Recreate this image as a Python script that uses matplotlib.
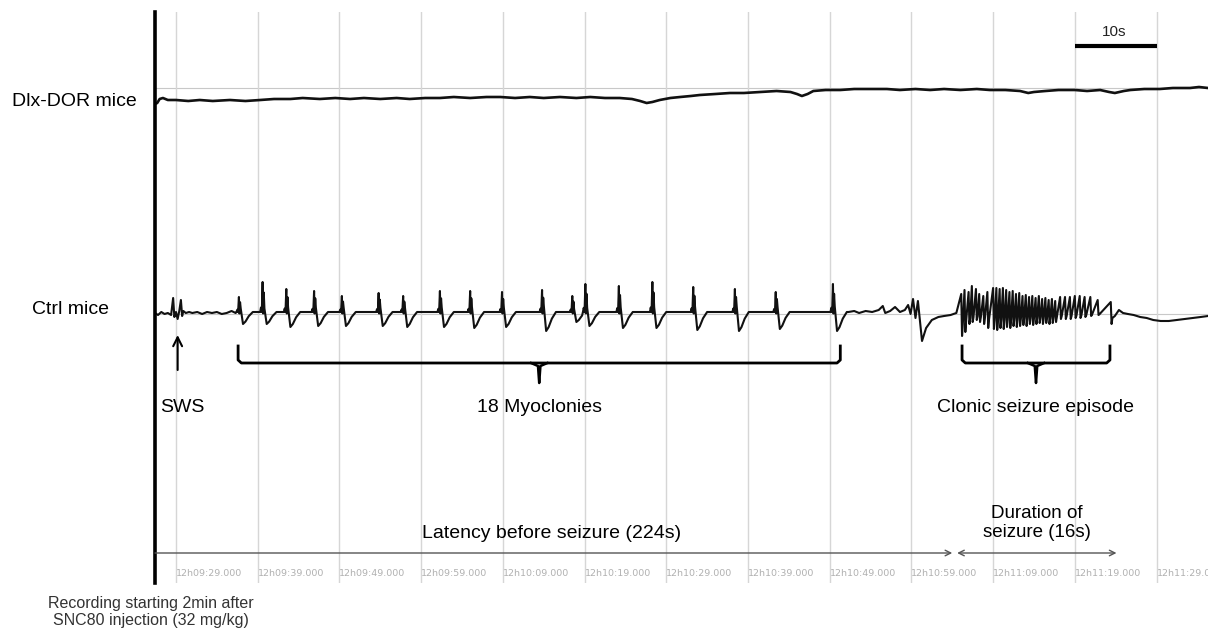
import matplotlib.pyplot as plt

# time in s after 12h09:29.000, amplitude in arbitrary units
grid_t = [0, 10, 20, 30, 40, 50, 60, 70, 80, 90, 100, 110, 120]
tick_labels = ['12h09:29.000', '12h09:39.000', '12h09:49.000', '12h09:59.000',
               '12h10:09.000', '12h10:19.000', '12h10:29.000', '12h10:39.000',
               '12h10:49.000', '12h10:59.000', '12h11:09.000', '12h11:19.000',
               '12h11:29.000']
t_start, t_end = -2.57, 126.3

# Dlx-DOR trace (t, amplitude relative to reference line)
dlx_trace = [(-2.57, -16), (-2.3, -15), (-2.0, -11), (-1.6, -10), (-1.0, -12), (0.0, -12),
             (1.5, -13), (2.9, -12), (4.5, -13), (6.6, -12), (8.5, -13), (10.3, -12),
             (12.0, -11), (14.0, -11), (15.5, -10), (17.6, -11), (19.5, -10), (21.3, -11),
             (23.0, -10), (25.0, -11), (27.0, -10), (28.6, -11), (30.5, -10), (32.3, -10),
             (34.0, -9), (36.0, -10), (38.0, -9), (39.7, -9), (41.5, -10), (43.3, -9),
             (45.0, -10), (47.0, -9), (49.0, -10), (50.7, -9), (52.5, -10), (54.3, -10),
             (55.8, -11), (56.8, -13), (57.6, -15), (58.3, -14), (59.2, -12), (60.5, -10),
             (61.7, -9), (63.0, -8), (64.1, -7), (66.0, -6), (67.8, -5), (69.5, -5),
             (71.5, -4), (73.5, -3), (75.2, -4), (76.0, -6), (76.6, -8), (77.3, -6),
             (78.0, -3), (79.5, -2), (81.3, -2), (83.0, -1), (84.9, -1), (87.0, -1),
             (88.6, -2), (90.5, -1), (92.3, -2), (94.0, -1), (96.0, -2), (98.0, -1),
             (99.6, -2), (101.5, -2), (103.3, -3), (104.3, -5), (105.0, -4), (106.4, -3),
             (108.0, -2), (110.0, -2), (111.5, -3), (113.1, -2), (114.2, -4), (114.9, -5),
             (116.0, -3), (116.8, -2), (118.5, -1), (120.4, -1), (122.0, 0), (124.1, 0),
             (125.2, 1), (126.3, 0)]

# Ctrl trace: quiet parts, myoclonies, clonic seizure
ctrl_pre = [(-2.57, 1), (-2.2, -1), (-1.8, 2), (-1.4, 0), (-1.0, 1), (-0.6, -1), (-0.35, 16),
            (-0.2, -3), (0.0, 2), (0.2, -5), (0.4, 3), (0.6, 14), (0.75, -2), (0.9, 3),
            (1.2, 1), (1.6, 2), (2.0, 1), (2.6, 2), (3.2, 0), (3.8, 2), (4.4, 1), (5.0, 2),
            (5.6, 0), (6.2, 1), (6.8, 3), (7.3, 1)]
myo_t = [7.7, 10.6, 13.5, 16.9, 20.3, 24.8, 27.8, 32.3, 36.0, 39.9, 44.8, 48.5, 50.1,
         54.2, 58.3, 63.3, 68.4, 73.4, 80.4]
myo_peak = [17, 32, 25, 23, 18, 21, 18, 23, 23, 22, 24, 18, 30, 28, 32, 27, 25, 22, 30]
myo_dip = [-10, -10, -13, -12, -12, -12, -13, -13, -14, -13, -17, -8, -12, -14, -14, -16,
           -17, -15, -17]
ctrl_mid = [(82.3, 2), (83.0, 3), (83.6, 1), (84.4, 3), (85.2, 2), (86.0, 4), (86.5, 8),
            (86.8, 1), (87.4, 3), (88.0, 7), (88.6, 2), (89.2, 4), (89.6, 9), (89.9, 0),
            (90.2, 15), (90.5, -4), (90.8, 13), (91.3, -27), (91.8, -14), (92.5, -6),
            (93.3, -3), (94.0, -2), (94.8, -1), (95.5, 1)]
seiz_t = [96.1, 96.5, 97.0, 97.4, 97.9, 98.3, 98.8, 99.3,
          100.0, 100.4, 100.8, 101.2, 101.6, 102.0, 102.4, 102.8, 103.2, 103.6, 104.0,
          104.4, 104.8, 105.2, 105.6, 106.0, 106.4, 106.8, 107.2, 107.6,
          108.2, 108.8, 109.4, 110.0, 110.6, 111.2, 111.9, 112.8, 114.4]
seiz_hi = [20, 24, 22, 28, 25, 20, 18, 22,
           26, 26, 25, 26, 24, 22, 23, 20, 21, 18, 19, 17, 18, 16, 18, 15, 16, 14, 15, 13,
           17, 17, 17, 18, 18, 17, 17, 14, 12]
seiz_lo = [-22, -18, -10, -8, -6, -8, -10, -14,
           -15, -16, -14, -15, -13, -14, -12, -13, -12, -11, -12, -10, -11, -10, -9, -10,
           -9, -10, -9, -8,
           -5, -5, -5, -4, -4, -3, -2, -1, -10]
ctrl_post = [(114.9, -2), (115.4, 4), (115.9, 1), (116.5, 0), (117.2, -1), (118.0, -3),
             (118.8, -4), (119.6, -6), (120.5, -7), (121.5, -7), (122.5, -6), (123.5, -5),
             (124.5, -4), (125.4, -3), (126.3, -2)]

myo_span = (7.6, 81.3)
clonic_span = (96.2, 114.3)
latency_end = 95.0
duration_span = (95.6, 115.1)
scalebar = (110, 120)

DLX_Y, CTRL_Y = 495, 269

plt.rcParams['font.family'] = ['Liberation Sans', 'DejaVu Sans']

fig = plt.figure(figsize=(12.08, 6.32), dpi=100)
ax = fig.add_axes([155 / 1208, 49 / 632, 1053 / 1208, 571 / 632])
ax.set_xlim(t_start, t_end)
ax.set_ylim(0, 571)

# build ctrl trace
pts = list(ctrl_pre)
shape = [(-0.3, 0), (-0.2, 0.15), (-0.1, 0.0), (0.0, 1.0), (0.06, -0.15), (0.14, 0.65),
         (0.22, -0.3), (0.5, 1.0), (0.8, 0.8), (1.2, 0.35), (1.7, 0.0)]
base = 2
for i, t0 in enumerate(myo_t):
    nxt = myo_t[i + 1] - 0.35 if i + 1 < len(myo_t) else 1e9
    for dt, f in shape:
        if t0 + dt >= nxt:
            break
        if dt == 0.0 or dt == 0.14 or dt == -0.2:
            v = base + f * (myo_peak[i] - base)
        elif dt in (0.22, 0.5, 0.8, 1.2):
            v = base + f * (myo_dip[i] - base)
        else:
            v = base + f * 10
        pts.append((t0 + dt, v))
pts += ctrl_mid
for t0, hi, lo in zip(seiz_t, seiz_hi, seiz_lo):
    pts += [(t0, hi), (t0 + 0.1, lo), (t0 + 0.2, lo * 0.4)]
pts += ctrl_post

ax.plot([p[0] for p in dlx_trace], [DLX_Y + p[1] for p in dlx_trace], color='#111111', lw=1.9)
ax.plot([p[0] for p in pts], [CTRL_Y + p[1] for p in pts], color='#111111', lw=1.5)

ax.axhline(DLX_Y, color='#c8c8c8', lw=0.8, zorder=0)
ax.axhline(CTRL_Y, color='#c8c8c8', lw=0.8, zorder=0)

ax.set_xticks(grid_t, tick_labels)
ax.tick_params(axis='x', length=0, pad=-10, labelsize=6.8, labelcolor='#b0b0b0')
plt.setp(ax.get_xticklabels(), ha='left', family='DejaVu Sans')
ax.grid(axis='x', color='#d6d6d6', lw=1)
ax.set_axisbelow(True)
ax.set_yticks([])
for s in ['top', 'right', 'bottom']:
    ax.spines[s].set_visible(False)
ax.spines['left'].set_linewidth(2.6)
ax.spines['left'].set_color('black')


def bracket(t0, t1, y_top=237, y_bar=220, y_tip=200):
    mid = (t0 + t1) / 2
    ax.plot([t0, t0, t0 + 0.4, t1 - 0.4, t1, t1], [y_top, y_bar + 3, y_bar, y_bar, y_bar + 3, y_top],
            color='black', lw=2)
    ax.plot([mid - 1.0, mid - 0.15, mid, mid + 0.15, mid + 1.0],
            [y_bar, y_bar - 3, y_tip, y_bar - 3, y_bar], color='black', lw=1.8)
    return mid


m1 = bracket(*myo_span)
m2 = bracket(*clonic_span)
ax.text(m1, 176, '18 Myoclonies', ha='center', va='center', fontsize=14)
ax.text(m2, 176, 'Clonic seizure episode', ha='center', va='center', fontsize=14)

ax.annotate('', xy=(0.2, 248), xytext=(0.2, 213),
            arrowprops=dict(arrowstyle='->', lw=1.5, color='black', mutation_scale=16,
                            shrinkA=0, shrinkB=0))
ax.text(0.73, 176, 'SWS', ha='center', va='center', fontsize=14)

ax.annotate('', xy=(latency_end, 30), xytext=(t_start, 30),
            arrowprops=dict(arrowstyle='->', lw=1, color='#555555', shrinkA=0, shrinkB=0))
ax.annotate('', xy=(duration_span[1], 30), xytext=(duration_span[0], 30),
            arrowprops=dict(arrowstyle='<->', lw=1, color='#555555', shrinkA=0, shrinkB=0))
ax.text(46.0, 49, 'Latency before seizure (224s)', ha='center', va='center', fontsize=14)
ax.text(105.4, 60, 'Duration of\nseizure (16s)', ha='center', va='center', fontsize=13.5,
        linespacing=1.1)

ax.plot(scalebar, [537, 537], color='black', lw=3, solid_capstyle='butt')
ax.text(114.8, 551, '10s', ha='center', va='center', fontsize=11, color='#222222')

ax.text(-20.1, 481, 'Dlx-DOR mice', ha='left', va='center', fontsize=14)
ax.text(-17.6, 274, 'Ctrl mice', ha='left', va='center', fontsize=14)
ax.text(-3.1, -29, 'Recording starting 2min after\nSNC80 injection (32 mg/kg)',
        ha='center', va='center', fontsize=11.5, color='#333333', linespacing=1.15)

fig.savefig('out.png', dpi=100)
